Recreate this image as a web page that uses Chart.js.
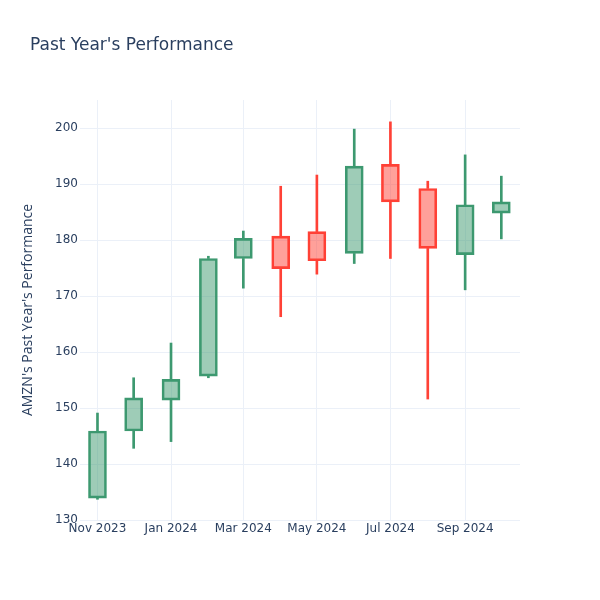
<!DOCTYPE html>
<html>
<head>
<meta charset="utf-8">
<script src="https://cdn.jsdelivr.net/npm/chart.js@4.4.1/dist/chart.umd.min.js"></script>
<style>
  body { margin: 0; background: #fff; }
  #wrap { width: 600px; height: 600px; position: relative; }
</style>
</head>
<body>
<div id="wrap"><canvas id="candle-canvas"></canvas></div>
<script>
// monthly AMZN candles, first day of each month
const months = ['2023-11-01', '2023-12-01', '2024-01-01', '2024-02-01', '2024-03-01', '2024-04-01',
  '2024-05-01', '2024-06-01', '2024-07-01', '2024-08-01', '2024-09-01', '2024-10-01']
const openVals = [133.9, 145.9, 151.4, 155.7, 176.7, 180.7, 181.5, 177.6, 193.5, 189.2, 177.4, 184.8]
const closeVals = [145.9, 151.8, 155.1, 176.7, 180.3, 174.9, 176.3, 193.2, 186.8, 178.5, 186.3, 186.8]
const highVals = [149.1, 155.4, 161.6, 177.1, 181.6, 189.6, 191.6, 199.8, 201.1, 190.5, 195.2, 191.4]
const lowVals = [133.7, 142.8, 144.0, 155.4, 171.4, 166.3, 173.9, 175.8, 176.7, 151.6, 171.1, 180.2]

const xTickDates = ['2023-11-01', '2024-01-01', '2024-03-01', '2024-05-01', '2024-07-01', '2024-09-01']
const xTickLabels = ['Nov 2023', 'Jan 2024', 'Mar 2024', 'May 2024', 'Jul 2024', 'Sep 2024']
const yTicks = [130, 140, 150, 160, 170, 180, 190, 200]

const DAY = 86400000
const base = Date.parse(months[0])
function dayOf(d) {
  return (Date.parse(d) - base) / DAY
}

const upLine = '#3D9970'
const upFill = 'rgba(61, 153, 112, 0.5)'
const downLine = '#FF4136'
const downFill = 'rgba(255, 65, 54, 0.5)'
const textColor = '#2a3f5f'
const gridColor = '#EBF0F8'

const isUp = openVals.map((o, i) => closeVals[i] >= o)
const lineColors = isUp.map(u => u ? upLine : downLine)
const fillColors = isUp.map(u => u ? upFill : downFill)

const bodies = months.map((m, i) => ({ x: dayOf(m), y: [openVals[i], closeVals[i]] }))
const upperWicks = months.map((m, i) => ({ x: dayOf(m), y: [Math.max(openVals[i], closeVals[i]), highVals[i]] }))
const lowerWicks = months.map((m, i) => ({ x: dayOf(m), y: [lowVals[i], Math.min(openVals[i], closeVals[i])] }))

const titlePlugin = {
  id: 'plotTitle',
  afterDraw(chart) {
    const c = chart.ctx
    c.save()
    c.font = '17px "DejaVu Sans"'
    c.fillStyle = textColor
    c.textBaseline = 'middle'
    c.fillText("Past Year's Performance", 30, 45.5)
    c.restore()
  }
}

const ctx = document.getElementById('candle-canvas').getContext('2d')
const candleChart = new Chart(ctx, {
  type: 'bar',
  data: {
    datasets: [
      {
        data: upperWicks,
        backgroundColor: lineColors,
        borderWidth: 0,
        barThickness: 2,
        grouped: false,
      },
      {
        data: lowerWicks,
        backgroundColor: lineColors,
        borderWidth: 0,
        barThickness: 2,
        grouped: false,
      },
      {
        data: bodies,
        backgroundColor: fillColors,
        borderColor: lineColors,
        borderWidth: 2,
        borderSkipped: false,
        barThickness: 18,
        grouped: false,
      },
    ],
  },
  options: {
    responsive: true,
    maintainAspectRatio: false,
    animation: false,
    layout: {
      padding: { top: 100, right: 80, bottom: 0, left: 0 },
    },
    scales: {
      x: {
        type: 'linear',
        min: -14.5,
        max: 350.5,
        offset: false,
        grid: { offset: false, color: gridColor, drawTicks: false },
        border: { display: false },
        afterBuildTicks(scale) {
          scale.ticks = xTickDates.map(d => ({ value: dayOf(d) }))
        },
        afterFit(scale) {
          scale.height = 80
        },
        ticks: {
          padding: 2,
          maxRotation: 0,
          autoSkip: false,
          color: textColor,
          font: { family: 'DejaVu Sans', size: 12 },
          callback: function (value, index) {
            return xTickLabels[index]
          },
        },
      },
      y: {
        min: 130.0,
        max: 205.0,
        grid: { color: gridColor, drawTicks: false },
        border: { display: false },
        afterBuildTicks(scale) {
          scale.ticks = yTicks.map(v => ({ value: v }))
        },
        afterFit(scale) {
          scale.width = 80
        },
        ticks: {
          padding: 2,
          color: textColor,
          font: { family: 'DejaVu Sans', size: 12 },
        },
        title: {
          display: true,
          text: "AMZN's Past Year's Performance",
          color: textColor,
          font: { family: 'Open Sans', size: 14 },
          padding: { top: 20, bottom: 0 },
        },
      },
    },
    plugins: {
      legend: { display: false },
      title: { display: false },
      tooltip: { enabled: false },
    },
  },
  plugins: [titlePlugin],
})
</script>
</body>
</html>
